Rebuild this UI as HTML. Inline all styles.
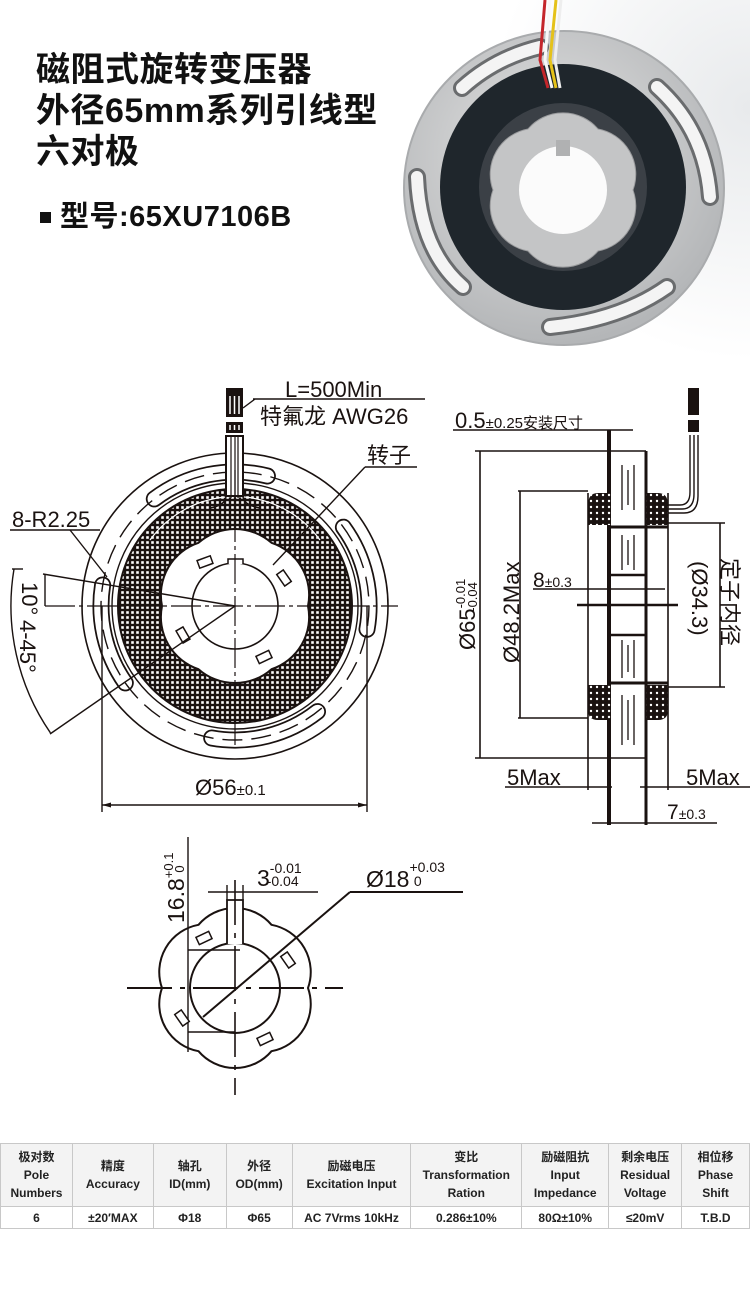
<!DOCTYPE html>
<html><head><meta charset="utf-8">
<style>
html,body{margin:0;padding:0;background:#fff;}
body{width:750px;height:1290px;position:relative;overflow:hidden;font-family:"Liberation Sans","Noto Sans CJK SC",sans-serif;}
.t{position:absolute;left:36px;font-weight:bold;font-size:34px;color:#111;line-height:41px;font-family:"Liberation Sans","Noto Sans CJK SC",sans-serif;letter-spacing:0.5px;white-space:nowrap;}
table{position:absolute;left:0;top:1143px;border-collapse:collapse;font-family:"Liberation Sans","Noto Sans CJK SC",sans-serif;font-weight:bold;font-size:12px;color:#222;}
td{border:1px solid #c8c8c8;text-align:center;padding:0;line-height:18px;}
tr.h td{background:#f3f3f3;height:62px;}
tr.d td{height:21px;}
</style></head><body>
<svg width="750" height="1290" style="position:absolute;left:0;top:0" xmlns="http://www.w3.org/2000/svg">
<defs>
<pattern id="hatch" width="5" height="5" patternUnits="userSpaceOnUse"><rect width="5" height="5" fill="#1a1210"/><rect x="1.2" y="1.2" width="2.6" height="2.6" fill="#fff"/></pattern>
<pattern id="dots" width="6" height="6" patternUnits="userSpaceOnUse"><rect width="6" height="6" fill="#1a1210"/><circle cx="3" cy="3" r="1.2" fill="#fff"/></pattern>
<radialGradient id="plate" cx="0.45" cy="0.4" r="0.6"><stop offset="0" stop-color="#e4e4e4"/><stop offset="1" stop-color="#b4b6b8"/></radialGradient>
<radialGradient id="bg" cx="1" cy="0.3" r="0.7"><stop offset="0" stop-color="#e8eaec"/><stop offset="1" stop-color="#fff"/></radialGradient>
</defs>
<rect x="380" y="0" width="370" height="360" fill="url(#bg)"/>
<!-- photo -->
<ellipse cx="564" cy="188" rx="160" ry="157" fill="url(#plate)" stroke="#a9abad" stroke-width="2"/>
<g fill="none" stroke-linecap="round">
<path d="M462,88 Q495,58 540,47" stroke="#6a6c6e" stroke-width="18"/>
<path d="M462,88 Q495,58 540,47" stroke="#f4f4f4" stroke-width="12"/>
<path d="M657,87 Q705,130 710,197" stroke="#6a6c6e" stroke-width="18"/>
<path d="M657,87 Q705,130 710,197" stroke="#f4f4f4" stroke-width="12"/>
<path d="M417,177 Q420,250 463,287" stroke="#6a6c6e" stroke-width="18"/>
<path d="M417,177 Q420,250 463,287" stroke="#f4f4f4" stroke-width="12"/>
<path d="M550,327 Q620,320 667,287" stroke="#6a6c6e" stroke-width="18"/>
<path d="M550,327 Q620,320 667,287" stroke="#f4f4f4" stroke-width="12"/>
</g>
<circle cx="563" cy="187" r="123" fill="#1f262c"/>
<circle cx="563" cy="187" r="84" fill="#3b4046"/>
<path d="M633,190 A46,46 0 0 1 598,251 A46,46 0 0 1 528,251 A46,46 0 0 1 493,190 A46,46 0 0 1 528,129 A46,46 0 0 1 598,129 A46,46 0 0 1 633,190Z" fill="#c4c5c6" stroke="#9a9b9d"/>
<circle cx="563" cy="190" r="44" fill="#fbfbfb"/>
<rect x="556" y="140" width="14" height="16" fill="#b0b1b2"/>
<g stroke-width="3" fill="none">
<path d="M545,0 L540,60 L548,88" stroke="#c4262b"/>
<path d="M550,0 L545,60 L552,88" stroke="#f8f8f8"/>
<path d="M556,0 L550,60 L556,88" stroke="#e5c21a"/>
<path d="M561,0 L555,60 L560,88" stroke="#eee"/>
</g>
<!-- FRONT VIEW -->
<g fill="none" stroke="#1a1210" stroke-width="1.6">
<circle cx="235" cy="606" r="153"/>
</g>
<g fill="none" stroke-linecap="round">
<path d="M154.3,498.9 A134,134 0 0 1 267.4,476.0 M343.4,527.2 A134,134 0 0 1 367.0,629.3 M317.5,711.6 A134,134 0 0 1 211.7,738.0 M125.3,682.9 A134,134 0 0 1 102.6,585.0" stroke="#1a1210" stroke-width="17"/>
<path d="M154.3,498.9 A134,134 0 0 1 267.4,476.0 M343.4,527.2 A134,134 0 0 1 367.0,629.3 M317.5,711.6 A134,134 0 0 1 211.7,738.0 M125.3,682.9 A134,134 0 0 1 102.6,585.0" stroke="#fff" stroke-width="13.5"/>
</g>
<circle cx="235" cy="606" r="134" fill="none" stroke="#1a1210" stroke-width="1.4" stroke-dasharray="20 9"/>
<circle cx="235" cy="606" r="123" fill="none" stroke="#1a1210" stroke-width="1.4"/>
<circle cx="235" cy="606" r="117" fill="url(#hatch)" stroke="#1a1210" stroke-width="2"/>
<path d="M150,540 A105,105 0 0 1 320,540" fill="none" stroke="#fff" stroke-width="1.2"/>
<path d="M308,606 A55,55 0 0 1 271.5,669.2 A55,55 0 0 1 198.5,669.2 A55,55 0 0 1 162,606 A55,55 0 0 1 198.5,542.8 A55,55 0 0 1 271.5,542.8 A55,55 0 0 1 308,606Z" fill="#fff" stroke="#1a1210" stroke-width="2"/>
<circle cx="235" cy="606" r="43" fill="#fff" stroke="#1a1210" stroke-width="1.6"/>
<path d="M228,564 L228,559 L243,559 L243,564" fill="#fff" stroke="#1a1210" stroke-width="1.5"/>
<g fill="#fff" stroke="#1a1210" stroke-width="1.5">
<rect x="-7" y="-4" width="14" height="8" transform="translate(205,562) rotate(-20)"/>
<rect x="-7" y="-4" width="14" height="8" transform="translate(284,578) rotate(55)"/>
<rect x="-7" y="-4" width="14" height="8" transform="translate(183,635) rotate(60)"/>
<rect x="-7" y="-4" width="14" height="8" transform="translate(264,657) rotate(-25)"/>
</g>
<!-- wire -->
<g stroke="#1a1210" fill="none">
<rect x="226" y="436" width="17" height="60" fill="#fff" stroke-width="2"/>
<path d="M231,436 V498 M235,436 V498 M238,436 V498" stroke-width="1.2"/>
<path d="M226,496 Q226,505 210,508 M243,496 Q243,505 260,508" stroke-width="1.5"/>
</g>
<rect x="226" y="388" width="17" height="29" fill="#1a1210"/>
<path d="M230,396 V414 M234.5,396 V414 M239,396 V414" stroke="#fff" stroke-width="1.5"/>
<rect x="226" y="422" width="17" height="11" fill="#1a1210"/>
<path d="M230,425 V430 M234.5,425 V430 M239,425 V430" stroke="#fff" stroke-width="1.5"/>
<!-- centerlines -->
<g stroke="#1a1210" stroke-width="1.2" stroke-dasharray="30 4 4 4">
<line x1="45" y1="606" x2="398" y2="606"/>
<line x1="235" y1="470" x2="235" y2="745"/>
</g>
<!-- leaders -->
<g stroke="#1a1210" stroke-width="1.4" fill="none">
<line x1="253" y1="399" x2="425" y2="399"/><line x1="243" y1="408" x2="255" y2="399"/>
<line x1="365" y1="467" x2="417" y2="467"/><line x1="365" y1="467" x2="273" y2="565"/>
<line x1="10" y1="530" x2="100" y2="530"/><line x1="70" y1="530" x2="107" y2="577"/>
<line x1="235" y1="606" x2="43" y2="574"/><line x1="235" y1="606" x2="50" y2="734"/>
<line x1="45" y1="574" x2="45" y2="606"/>
<path d="M14,569 A224,224 0 0 0 50.4,732.8"/>
<line x1="12" y1="569" x2="23" y2="569"/>
<line x1="102" y1="606" x2="102" y2="812"/><line x1="367" y1="606" x2="367" y2="812"/>
<line x1="102" y1="805" x2="367" y2="805"/>
</g>
<path d="M102,805 l9,-2.5 v5z M367,805 l-9,-2.5 v5z" fill="#1a1210"/>
<g fill="#1a1210" font-family="Liberation Sans, Noto Sans CJK SC, sans-serif" font-size="22">
<text x="285" y="397">L=500Min</text>
<text x="260" y="424">特氟龙 AWG26</text>
<text x="367" y="463">转子</text>
<text x="12" y="527">8-R2.25</text>
<text transform="translate(22,582) rotate(90)">10°</text>
<text transform="translate(20,620) rotate(90)">4-45°</text>
<text x="195" y="795">Ø56<tspan font-size="15">±0.1</tspan></text>
</g>
<!-- SIDE VIEW -->
<g stroke="#1a1210" fill="none" stroke-width="1.6">
<line x1="453" y1="430" x2="633" y2="430"/>
<line x1="475" y1="451" x2="646" y2="451"/><line x1="475" y1="758" x2="646" y2="758"/>
<line x1="480" y1="451" x2="480" y2="758"/>
<line x1="518" y1="491" x2="588" y2="491"/><line x1="518" y1="718" x2="588" y2="718"/>
<line x1="520" y1="491" x2="520" y2="718"/>
<line x1="588" y1="493" x2="588" y2="790"/>
<line x1="668" y1="493" x2="668" y2="790"/>
<line x1="646" y1="451" x2="646" y2="825" stroke-width="3"/>
<line x1="609" y1="430" x2="609" y2="825" stroke-width="4"/>
<line x1="609" y1="527" x2="668" y2="527" stroke-width="3"/>
<line x1="609" y1="683" x2="668" y2="683" stroke-width="3"/>
<line x1="611" y1="575" x2="646" y2="575" stroke-width="2.5"/>
<line x1="611" y1="635" x2="646" y2="635" stroke-width="2.5"/>
<line x1="577" y1="605" x2="678" y2="605" stroke-width="2.5"/>
<line x1="533" y1="589" x2="665" y2="589"/>
<line x1="668" y1="523" x2="725" y2="523"/><line x1="668" y1="687" x2="725" y2="687"/>
<line x1="720" y1="523" x2="720" y2="687"/>
<line x1="505" y1="787" x2="612" y2="787"/><line x1="640" y1="787" x2="750" y2="787"/>
<line x1="592" y1="823" x2="717" y2="823"/>
<path d="M622,465 V510 M628,470 V505 M634,465 V510 M622,535 V570 M628,540 V565 M634,535 V570 M622,640 V678 M628,645 V672 M634,640 V678 M622,695 V745 M628,700 V740 M634,695 V745" stroke-width="1.3"/>
</g>
<path d="M588,505 Q588,493 598,493 H611 V525 H588Z M646,493 H658 Q668,493 668,505 V525 H646Z M588,685 H611 V720 H598 Q588,720 588,710Z M646,685 H668 V710 Q668,720 658,720 H646Z" fill="url(#dots)"/>
<g stroke="#1a1210" fill="none" stroke-width="1.4">
<path d="M668,505 H680 Q690,505 690,492 V435"/>
<path d="M668,509 H682 Q694,509 694,494 V435"/>
<path d="M668,513 H684 Q698,513 698,496 V435"/>
</g>
<rect x="688" y="388" width="11" height="27" fill="#1a1210"/>
<rect x="688" y="420" width="11" height="12" fill="#1a1210"/>
<g fill="#1a1210" font-family="Liberation Sans, Noto Sans CJK SC, sans-serif" font-size="22">
<text x="455" y="428">0.5<tspan font-size="15">±0.25安装尺寸</tspan></text>
<text transform="translate(475,650) rotate(-90)">Ø65<tspan font-size="13" dy="-10">-0.01</tspan><tspan font-size="13" dx="-33" dy="12">-0.04</tspan></text>
<text transform="translate(519,663) rotate(-90)">Ø48.2Max</text>
<text transform="translate(692,561) rotate(90)">(Ø34.3)</text>
<text transform="translate(722,558) rotate(90)">定子内径</text>
<text x="533" y="587" font-size="21">8<tspan font-size="14">±0.3</tspan></text>
<text x="507" y="785">5Max</text>
<text x="686" y="785">5Max</text>
<text x="667" y="819" font-size="21">7<tspan font-size="14">±0.3</tspan></text>
</g>
<!-- ROTOR VIEW -->
<path d="M308,988 A48,48 0 0 1 271.5,1051.2 A48,48 0 0 1 198.5,1051.2 A48,48 0 0 1 162,988 A48,48 0 0 1 198.5,924.8 A48,48 0 0 1 271.5,924.8 A48,48 0 0 1 308,988Z" fill="#fff" stroke="#1a1210" stroke-width="2"/>
<circle cx="235" cy="988" r="45" fill="#fff" stroke="#1a1210" stroke-width="2"/>
<path d="M227,944 V900 H243 V944" fill="#fff" stroke="#1a1210" stroke-width="1.8"/>
<g stroke="#1a1210" stroke-width="1.4" fill="none">
<line x1="127" y1="988" x2="343" y2="988" stroke-width="2" stroke-dasharray="45 8 5 8"/>
<line x1="235" y1="880" x2="235" y2="1095" stroke-width="1.6" stroke-dasharray="45 8 5 8"/>
<line x1="188" y1="837" x2="188" y2="1052"/>
<line x1="188" y1="950" x2="240" y2="950"/><line x1="188" y1="1032" x2="235" y2="1032"/>
<line x1="208" y1="892" x2="318" y2="892"/>
<line x1="227" y1="885" x2="227" y2="900"/><line x1="243" y1="885" x2="243" y2="900"/>
<line x1="350" y1="892" x2="463" y2="892" stroke-width="2"/>
<line x1="350" y1="892" x2="203" y2="1017" stroke-width="2"/>
</g>
<g fill="#fff" stroke="#1a1210" stroke-width="1.5">
<rect x="-7" y="-4" width="14" height="8" transform="translate(204,938) rotate(-25)"/>
<rect x="-7" y="-4" width="14" height="8" transform="translate(288,960) rotate(55)"/>
<rect x="-7" y="-4" width="14" height="8" transform="translate(182,1018) rotate(55)"/>
<rect x="-7" y="-4" width="14" height="8" transform="translate(265,1039) rotate(-25)"/>
</g>
<g fill="#1a1210" font-family="Liberation Sans, sans-serif" font-size="23">
<text transform="translate(184,923) rotate(-90)">16.8<tspan font-size="13" dy="-11">+0.1</tspan><tspan font-size="13" dx="-20" dy="11">0</tspan></text>
<text x="257" y="886">3<tspan font-size="14" dy="-13">-0.01</tspan><tspan font-size="14" dx="-35" dy="13">-0.04</tspan></text>
<text x="366" y="887">Ø18<tspan font-size="14" dy="-15">+0.03</tspan><tspan font-size="14" dx="-31" dy="14">0</tspan></text>
</g>
</svg>
<div class="t" style="top:50px">磁阻式旋转变压器</div>
<div class="t" style="top:91px">外径65mm系列引线型</div>
<div class="t" style="top:132px">六对极</div>
<div style="position:absolute;left:40px;top:212px;width:11px;height:11px;background:#111"></div>
<div class="t" style="left:60px;top:197px;font-size:29px;letter-spacing:0.5px">型号:65XU7106B</div>
<table>
<colgroup><col style="width:72px"><col style="width:81px"><col style="width:73px"><col style="width:66px"><col style="width:119px"><col style="width:111px"><col style="width:87px"><col style="width:73px"><col style="width:68px"></colgroup>
<tr class="h"><td>极对数<br>Pole<br>Numbers</td><td>精度<br>Accuracy</td><td>轴孔<br>ID(mm)</td><td>外径<br>OD(mm)</td><td>励磁电压<br>Excitation Input</td><td>变比<br>Transformation<br>Ration</td><td>励磁阻抗<br>Input<br>Impedance</td><td>剩余电压<br>Residual<br>Voltage</td><td>相位移<br>Phase<br>Shift</td></tr>
<tr class="d"><td>6</td><td>±20′MAX</td><td>Φ18</td><td>Φ65</td><td>AC 7Vrms 10kHz</td><td>0.286±10%</td><td>80Ω±10%</td><td>≤20mV</td><td>T.B.D</td></tr>
</table>
</body></html>
